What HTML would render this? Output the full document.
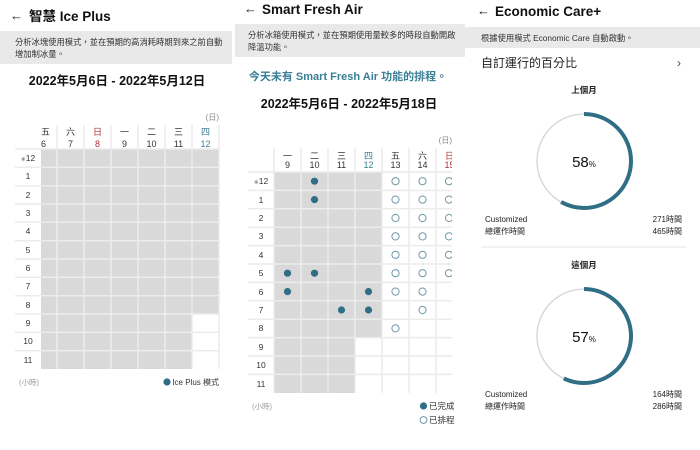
<!DOCTYPE html>
<html><head><meta charset="utf-8"><style>
html,body{margin:0;padding:0;background:#fff;}
svg{display:block;font-family:"Liberation Sans","Noto Sans CJK TC",sans-serif;}
</style></head><body>
<svg width="700" height="450" viewBox="0 0 700 450" xmlns="http://www.w3.org/2000/svg">
<defs><clipPath id="c2"><rect x="235" y="0" width="217" height="450"/></clipPath></defs>
<rect width="700" height="450" fill="#fff"/>

<!-- ========== PANEL 1 ========== -->
<text x="10" y="20" font-size="13" fill="#222">←</text>
<text x="29" y="21" font-size="13.5" font-weight="bold" fill="#111">智慧 Ice Plus</text>
<rect x="0" y="31" width="232" height="33" fill="#e9e9e9"/>
<text x="15" y="45" font-size="8.3" fill="#333">分析冰塊使用模式，並在預期的高消耗時期到來之前自動</text>
<text x="15" y="57" font-size="8.3" fill="#333">增加制冰量。</text>
<text x="117" y="85" font-size="12.5" font-weight="bold" fill="#111" text-anchor="middle">2022年5月6日 - 2022年5月12日</text>
<text x="219" y="120" font-size="8" fill="#888" text-anchor="end">(日)</text>
<g font-size="9" fill="#333">
<text x="41" y="135">五</text><text x="41" y="147">6</text>
<text x="70.5" y="135" text-anchor="middle">六</text><text x="70.5" y="147" text-anchor="middle">7</text>
<text x="97.5" y="135" text-anchor="middle" fill="#b0323a">日</text><text x="97.5" y="147" text-anchor="middle" fill="#b0323a">8</text>
<text x="124.5" y="135" text-anchor="middle">一</text><text x="124.5" y="147" text-anchor="middle">9</text>
<text x="151.5" y="135" text-anchor="middle">二</text><text x="151.5" y="147" text-anchor="middle">10</text>
<text x="178.5" y="135" text-anchor="middle">三</text><text x="178.5" y="147" text-anchor="middle">11</text>
<text x="205.5" y="135" text-anchor="middle" fill="#3a7f95">四</text><text x="205.5" y="147" text-anchor="middle" fill="#3a7f95">12</text>
</g>
<rect x="41" y="149" width="178" height="220" fill="#d9d9d9"/>
<rect x="192" y="314" width="27" height="55" fill="#fff"/>
<g stroke="#ececec" stroke-width="1.5">
<line x1="57" y1="125" x2="57" y2="369"/><line x1="84" y1="125" x2="84" y2="369"/><line x1="111" y1="125" x2="111" y2="369"/><line x1="138" y1="125" x2="138" y2="369"/><line x1="165" y1="125" x2="165" y2="369"/><line x1="192" y1="125" x2="192" y2="369"/><line x1="219" y1="125" x2="219" y2="369"/>
<line x1="15" y1="149" x2="219" y2="149"/><line x1="15" y1="167.3" x2="219" y2="167.3"/><line x1="15" y1="185.7" x2="219" y2="185.7"/><line x1="15" y1="204" x2="219" y2="204"/><line x1="15" y1="222.3" x2="219" y2="222.3"/><line x1="15" y1="240.7" x2="219" y2="240.7"/><line x1="15" y1="259" x2="219" y2="259"/><line x1="15" y1="277.3" x2="219" y2="277.3"/><line x1="15" y1="295.7" x2="219" y2="295.7"/><line x1="15" y1="314" x2="219" y2="314"/><line x1="15" y1="332.3" x2="219" y2="332.3"/><line x1="15" y1="350.7" x2="219" y2="350.7"/>
</g>
<g font-size="8.5" fill="#333" text-anchor="middle">
<text x="28" y="161"><tspan font-size="5" fill="#999">☀</tspan>12</text><text x="28" y="179">1</text><text x="28" y="198">2</text><text x="28" y="216">3</text><text x="28" y="234">4</text><text x="28" y="253">5</text><text x="28" y="271">6</text><text x="28" y="289">7</text><text x="28" y="308">8</text><text x="28" y="326">9</text><text x="28" y="344">10</text><text x="28" y="363">11</text>
</g>
<text x="19" y="385" font-size="7.5" fill="#999">(小時)</text>
<circle cx="167" cy="382" r="3.6" fill="#2f6e84"/>
<text x="219" y="385" font-size="8" fill="#333" text-anchor="end">Ice Plus 模式</text>

<!-- ========== PANEL 2 ========== -->
<text x="244" y="13" font-size="13" fill="#222">←</text>
<text x="262" y="14" font-size="13.5" font-weight="bold" fill="#111">Smart Fresh Air</text>
<rect x="235" y="24" width="230" height="33" fill="#e9e9e9"/>
<text x="248" y="38" font-size="8.3" fill="#333">分析冰箱使用模式，並在預期使用量較多的時段自動開啟</text>
<text x="248" y="50" font-size="8.3" fill="#333">降溫功能。</text>
<text x="348" y="80" font-size="11" font-weight="bold" fill="#3a7f95" text-anchor="middle">今天未有 Smart Fresh Air 功能的排程。</text>
<text x="349" y="108" font-size="12.5" font-weight="bold" fill="#111" text-anchor="middle">2022年5月6日 - 2022年5月18日</text>
<text x="452" y="143" font-size="8" fill="#888" text-anchor="end">(日)</text>
<g clip-path="url(#c2)">
<g font-size="9" fill="#333" text-anchor="middle">
<text x="287.5" y="159">一</text><text x="287.5" y="168">9</text>
<text x="314.5" y="159">二</text><text x="314.5" y="168">10</text>
<text x="341.5" y="159">三</text><text x="341.5" y="168">11</text>
<text x="368.5" y="159" fill="#3a7f95">四</text><text x="368.5" y="168" fill="#3a7f95">12</text>
<text x="395.5" y="159">五</text><text x="395.5" y="168">13</text>
<text x="422.5" y="159">六</text><text x="422.5" y="168">14</text>
<text x="449.5" y="159" fill="#b0323a">日</text><text x="449.5" y="168" fill="#b0323a">15</text>
</g>
<rect x="274" y="172" width="108" height="221" fill="#d9d9d9"/>
<rect x="355" y="337.6" width="27" height="56" fill="#fff"/>
<g stroke="#ececec" stroke-width="1.5">
<line x1="274" y1="148" x2="274" y2="393"/><line x1="301" y1="148" x2="301" y2="393"/><line x1="328" y1="148" x2="328" y2="393"/><line x1="355" y1="148" x2="355" y2="393"/><line x1="382" y1="148" x2="382" y2="393"/><line x1="409" y1="148" x2="409" y2="393"/><line x1="436" y1="148" x2="436" y2="393"/>
<line x1="248" y1="172" x2="452" y2="172"/><line x1="248" y1="190.4" x2="452" y2="190.4"/><line x1="248" y1="208.8" x2="452" y2="208.8"/><line x1="248" y1="227.2" x2="452" y2="227.2"/><line x1="248" y1="245.6" x2="452" y2="245.6"/><line x1="248" y1="264" x2="452" y2="264"/><line x1="248" y1="282.4" x2="452" y2="282.4"/><line x1="248" y1="300.8" x2="452" y2="300.8"/><line x1="248" y1="319.2" x2="452" y2="319.2"/><line x1="248" y1="337.6" x2="452" y2="337.6"/><line x1="248" y1="356" x2="452" y2="356"/><line x1="248" y1="374.4" x2="452" y2="374.4"/>
</g>
<g fill="#2f6e84">
<circle cx="314.5" cy="181.2" r="3.6"/><circle cx="314.5" cy="199.6" r="3.6"/>
<circle cx="287.5" cy="273.2" r="3.6"/><circle cx="314.5" cy="273.2" r="3.6"/>
<circle cx="287.5" cy="291.6" r="3.6"/><circle cx="368.5" cy="291.6" r="3.6"/>
<circle cx="341.5" cy="310" r="3.6"/><circle cx="368.5" cy="310" r="3.6"/>
</g>
<g fill="none" stroke="#6f97a6" stroke-width="1">
<circle cx="395.5" cy="181.2" r="3.6"/><circle cx="395.5" cy="199.6" r="3.6"/><circle cx="395.5" cy="218" r="3.6"/><circle cx="395.5" cy="236.4" r="3.6"/><circle cx="395.5" cy="254.8" r="3.6"/><circle cx="395.5" cy="273.2" r="3.6"/><circle cx="395.5" cy="291.6" r="3.6"/><circle cx="395.5" cy="328.4" r="3.6"/>
<circle cx="422.5" cy="181.2" r="3.6"/><circle cx="422.5" cy="199.6" r="3.6"/><circle cx="422.5" cy="218" r="3.6"/><circle cx="422.5" cy="236.4" r="3.6"/><circle cx="422.5" cy="254.8" r="3.6"/><circle cx="422.5" cy="273.2" r="3.6"/><circle cx="422.5" cy="291.6" r="3.6"/><circle cx="422.5" cy="310" r="3.6"/>
<circle cx="449" cy="181.2" r="3.6"/><circle cx="449" cy="199.6" r="3.6"/><circle cx="449" cy="218" r="3.6"/><circle cx="449" cy="236.4" r="3.6"/><circle cx="449" cy="254.8" r="3.6"/><circle cx="449" cy="273.2" r="3.6"/>
</g>
</g>
<g font-size="8.5" fill="#333" text-anchor="middle">
<text x="261" y="184"><tspan font-size="5" fill="#999">☀</tspan>12</text><text x="261" y="203">1</text><text x="261" y="221">2</text><text x="261" y="239">3</text><text x="261" y="258">4</text><text x="261" y="276">5</text><text x="261" y="295">6</text><text x="261" y="313">7</text><text x="261" y="331">8</text><text x="261" y="350">9</text><text x="261" y="368">10</text><text x="261" y="387">11</text>
</g>
<text x="252" y="409" font-size="7.5" fill="#999">(小時)</text>
<circle cx="423.5" cy="406" r="3.6" fill="#2f6e84"/>
<text x="429" y="409" font-size="8.5" fill="#333">已完成</text>
<circle cx="423.5" cy="420" r="3.4" fill="none" stroke="#6f97a6" stroke-width="1"/>
<text x="429" y="423" font-size="8.5" fill="#333">已排程</text>

<!-- ========== PANEL 3 ========== -->
<text x="477" y="15" font-size="13" fill="#222">←</text>
<text x="495" y="16" font-size="13.5" font-weight="bold" fill="#111">Economic Care+</text>
<rect x="465" y="27" width="235" height="21" fill="#e9e9e9"/>
<text x="481" y="41" font-size="8.3" fill="#333">根據使用模式 Economic Care 自動啟動。</text>
<text x="481" y="67" font-size="12" fill="#222">自訂運行的百分比</text>
<text x="679" y="67" font-size="12" fill="#444" text-anchor="middle">›</text>
<text x="584" y="93" font-size="8.5" font-weight="bold" fill="#222" text-anchor="middle">上個月</text>
<circle cx="584" cy="161" r="47" fill="none" stroke="#d4d4d4" stroke-width="1.3"/>
<circle cx="584" cy="161" r="47" fill="none" stroke="#2f6e84" stroke-width="4" stroke-dasharray="171.3 400" transform="rotate(-90 584 161)"/>
<text x="584" y="167" font-size="15" fill="#111" text-anchor="middle">58<tspan font-size="8">%</tspan></text>
<text x="485" y="222" font-size="8" fill="#222">Customized</text>
<text x="485" y="234" font-size="8" fill="#222">總運作時間</text>
<text x="682" y="222" font-size="8" fill="#222" text-anchor="end">271時間</text>
<text x="682" y="234" font-size="8" fill="#222" text-anchor="end">465時間</text>
<line x1="481" y1="247" x2="686" y2="247" stroke="#e6e6e6" stroke-width="1"/>
<text x="584" y="268" font-size="8.5" font-weight="bold" fill="#222" text-anchor="middle">這個月</text>
<circle cx="584" cy="336" r="47" fill="none" stroke="#d4d4d4" stroke-width="1.3"/>
<circle cx="584" cy="336" r="47" fill="none" stroke="#2f6e84" stroke-width="4" stroke-dasharray="168.3 400" transform="rotate(-90 584 336)"/>
<text x="584" y="342" font-size="15" fill="#111" text-anchor="middle">57<tspan font-size="8">%</tspan></text>
<text x="485" y="397" font-size="8" fill="#222">Customized</text>
<text x="485" y="409" font-size="8" fill="#222">總運作時間</text>
<text x="682" y="397" font-size="8" fill="#222" text-anchor="end">164時間</text>
<text x="682" y="409" font-size="8" fill="#222" text-anchor="end">286時間</text>
</svg>
</body></html>
